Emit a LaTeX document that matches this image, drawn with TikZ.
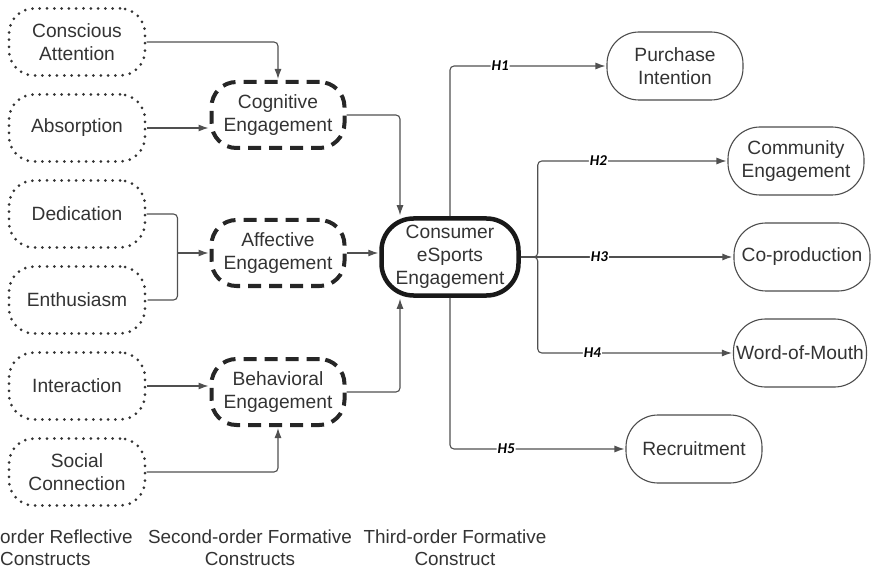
\documentclass[tikz,border=0pt]{standalone}
\usepackage{fontspec}
\setmainfont{Liberation Sans}
\newfontfamily\hypfont{Carlito}
\usetikzlibrary{arrows.meta,positioning}

\definecolor{txt}{HTML}{333333}
\definecolor{wirec}{HTML}{505050}

\tikzset{
  construct/.style={rectangle,align=center,inner sep=0pt,text=txt,
    font=\fontsize{19.2}{22.8}\selectfont},
  reflective/.style={construct,draw=txt,line width=3pt,line cap=round,
    dash pattern=on 0pt off 7.3pt,rounded corners=25pt,
    minimum width=136pt,minimum height=67pt},
  formative/.style={construct,draw=black!85,line width=4pt,
    dash pattern=on 13pt off 8pt,rounded corners=25pt,
    minimum width=133pt,minimum height=66pt},
  core/.style={construct,draw=black!90,line width=4.5pt,rounded corners=32pt,
    minimum width=137pt,minimum height=77pt},
  outcome/.style={construct,draw=black!70,line width=1.1pt,rounded corners=32pt,
    minimum width=136pt,minimum height=68pt},
  wire/.style={draw=wirec,line width=1.1pt,rounded corners=4pt},
  hyp/.style={fill=white,inner sep=1pt,text=black,
    font=\hypfont\bfseries\itshape\fontsize{15}{15}\selectfont},
  level/.style={align=center,inner sep=0pt,text=txt,
    font=\fontsize{18.9}{22}\selectfont}
}

\begin{document}
\begin{tikzpicture}[->,>={Latex[length=10pt,width=7pt]},shorten >=1pt,
        x=1pt,y=1pt,node distance=86pt]

  \useasboundingbox (0,0) rectangle (875,-569);

  % first-order constructs
  \node[reflective] (ca) at (77,-42) {Conscious\\Attention};
  \node[reflective] (abs) [below of=ca] {Absorption};
  \node[reflective] (ded) [below of=abs] {Dedication};
  \node[reflective] (ent) [below of=ded] {Enthusiasm};
  \node[reflective] (int) [below of=ent] {Interaction};
  \node[reflective] (soc) [below of=int] {Social\\Connection};

  % second-order constructs
  \node[formative] (aff) at (278,-253) {Affective\\Engagement};
  \node[formative] (cog) [above of=aff,node distance=138pt] {Cognitive\\Engagement};
  \node[formative] (beh) [below of=aff,node distance=139pt] {Behavioral\\Engagement};

  % third-order construct
  \node[core] (cons) [right of=aff,node distance=172pt,yshift=-4pt] {Consumer\\eSports\\Engagement};

  % outcomes
  \node[outcome] (cop) [right of=cons,node distance=352pt] {Co-production};
  \node[outcome] (com) [above of=cop,node distance=96pt,xshift=-6pt] {Community\\Engagement};
  \node[outcome,minimum width=133pt] (wom) [below of=cop,node distance=96pt,xshift=-2pt] {Word-of-Mouth};
  \node[outcome] (pur) at (675,-66) {Purchase\\Intention};
  \node[outcome] (rec) at (694,-449) {Recruitment};

  % levels
  \node[level,align=left,anchor=west] (lv1) at (0,-548) {order Reflective\\Constructs};
  \node[level] (lv2) at (250,-548) {Second-order Formative\\Constructs};
  \node[level] (lv3) at (455,-548) {Third-order Formative\\Construct};

  \coordinate (cin) at ([xshift=-50pt]cons.north);
  \coordinate (cout) at ([xshift=-50pt]cons.south);
  \coordinate (jn) at ([xshift=31pt]ded.east |- aff.west);
  \coordinate (fork) at ([xshift=17pt]cons.east);

  \draw[wire] (ca.east) -| (cog.north);
  \draw[wire] (abs) -- (abs -| cog.west);
  \draw[wire,-] (ded.east) -| (jn) |- (ent.east);
  \draw[wire] (jn) -- (aff.west);
  \draw[wire] (int) -- (int -| beh.west);
  \draw[wire] (soc.east) -| (beh.south);

  \draw[wire] (cog.east) -| (cin);
  \draw[wire] (aff) -- (aff -| cons.west);
  \draw[wire] (beh.east) -| (cout);

  \draw[wire] (cons.north) |- node[hyp,pos=0.66] {H1} (pur.west);
  \draw[wire] (cons.east) -- (fork) |- node[hyp,pos=0.66] {H2} (com.west);
  \draw[wire,line width=1.4pt] (cons.east) -- node[hyp,pos=0.37] {H3} (cop.west);
  \draw[wire] (cons.east) -- (fork) |- node[hyp,pos=0.64] {H4} (wom.west);
  \draw[wire] (cons.south) |- node[hyp,pos=0.66] {H5} (rec.west);

\end{tikzpicture}
\end{document}
